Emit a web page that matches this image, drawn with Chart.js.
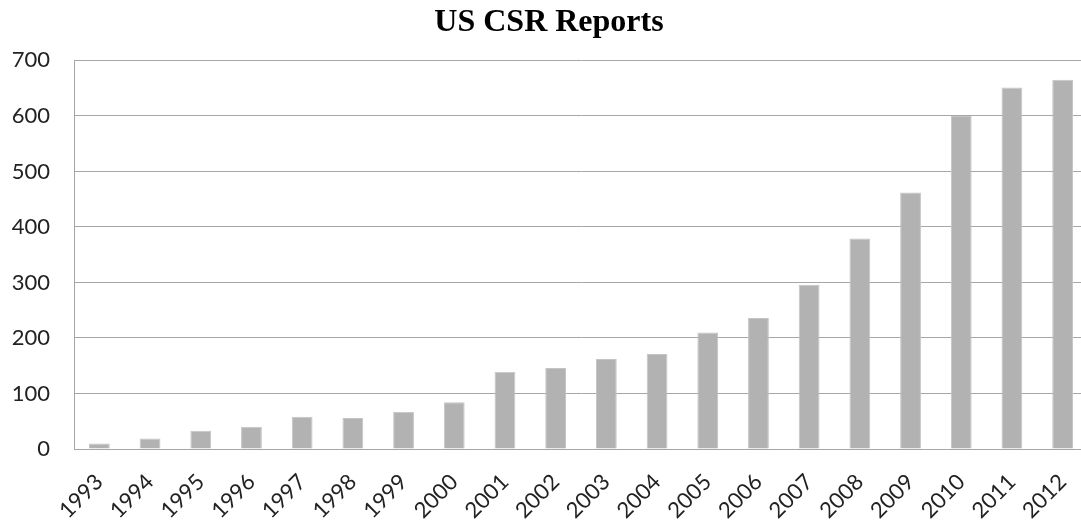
<!DOCTYPE html>
<html lang="en">
<head>
    <meta charset="UTF-8">
    <title>US CSR Reports</title>
    <script src="https://cdn.jsdelivr.net/npm/chart.js@4.4.0/dist/chart.umd.min.js"></script>
    <style>
        body {
            margin: 0;
            background-color: #fff;
            overflow: hidden;
        }
        .chart-box {
            width: 1088px;
            height: 527px;
        }
    </style>
</head>
<body>
    <div class="chart-box">
        <canvas id="csrChart"></canvas>
    </div>

    <script>
        // values
        const years = ['1993', '1994', '1995', '1996', '1997', '1998', '1999', '2000', '2001', '2002',
                       '2003', '2004', '2005', '2006', '2007', '2008', '2009', '2010', '2011', '2012'];
        const reportCounts = [10, 19, 33, 40, 58, 56, 67, 84, 139, 146,
                              162, 171, 210, 236, 296, 379, 462, 600, 651, 665];
        const yTicks = [0, 100, 200, 300, 400, 500, 600, 700];

        const gridGray = '#a6a6a6';
        const axisFont = { family: 'Lato', size: 22 };

        const ctx = document.getElementById('csrChart').getContext('2d');
        new Chart(ctx, {
            type: 'bar',
            data: {
                labels: years,
                datasets: [{
                    label: 'US CSR Reports',
                    data: reportCounts,
                    backgroundColor: '#b2b2b2',
                    borderColor: '#c4c4c4',
                    borderWidth: 1,
                    categoryPercentage: 1,
                    barPercentage: 0.41
                }]
            },
            options: {
                responsive: true,
                maintainAspectRatio: false,
                animation: false,
                layout: {
                    padding: { left: 10, right: 0, top: 4, bottom: 0 }
                },
                plugins: {
                    legend: { display: false },
                    tooltip: { enabled: false },
                    title: {
                        display: true,
                        text: 'US CSR Reports',
                        color: '#000',
                        font: { family: 'Liberation Serif', size: 32, weight: 'bold' },
                        padding: { top: 0, bottom: 18 }
                    }
                },
                scales: {
                    x: {
                        grid: { display: false, drawTicks: false },
                        border: { display: true, color: gridGray, width: 1 },
                        ticks: {
                            color: '#222',
                            font: axisFont,
                            maxRotation: 45,
                            minRotation: 45,
                            padding: 20,
                            autoSkip: false
                        },
                        // fixed band for the slanted year labels, plot runs to the edge
                        afterFit: (axis) => {
                            axis.paddingLeft = 0;
                            axis.paddingRight = 0;
                            axis.height = 78;
                        }
                    },
                    y: {
                        min: 0,
                        max: 700,
                        afterBuildTicks: (axis) => {
                            axis.ticks = yTicks.map(v => ({ value: v }));
                        },
                        afterFit: (axis) => {
                            axis.width = 64;
                        },
                        grid: { color: gridGray, lineWidth: 1, drawTicks: false },
                        border: { display: true, color: gridGray, width: 1 },
                        ticks: {
                            color: '#222',
                            font: axisFont,
                            padding: 24
                        }
                    }
                }
            }
        });
    </script>
</body>
</html>
